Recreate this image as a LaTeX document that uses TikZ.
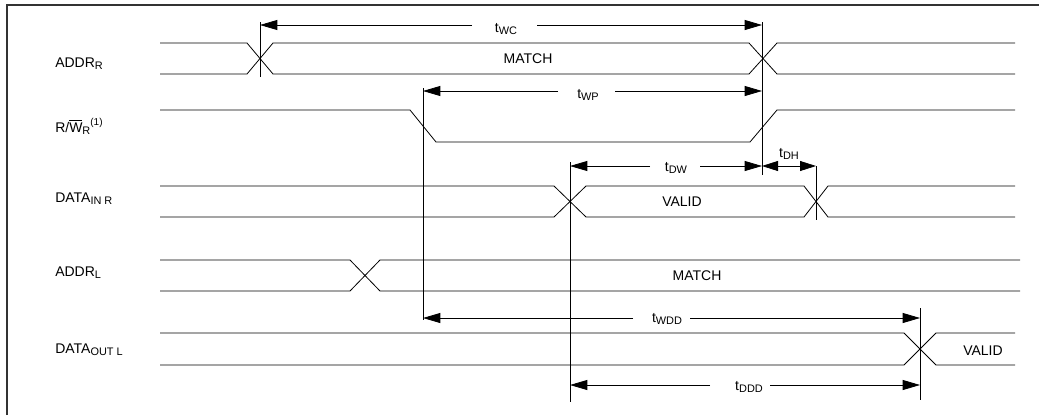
\documentclass[tikz,border=0pt]{standalone}
\usepackage{fontspec}
\setmainfont{Liberation Sans}
\usetikzlibrary{arrows.meta}
\newcommand\sbx[1]{\raisebox{-0.4ex}{\fontsize{8.2}{9}\selectfont #1}}
\newcommand\spx[1]{\raisebox{0.9ex}{\fontsize{7.5}{8}\selectfont #1}}
\begin{document}
\begin{tikzpicture}[x=0.75pt,y=-0.75pt,
  sig/.style={line width=0.6pt},
  vline/.style={line width=0.6pt},
  arr/.style={line width=0.6pt,-{Triangle[length=13pt,width=7.5pt]}},
  darr/.style={line width=0.6pt,{Triangle[length=12pt,width=7.5pt]}-{Triangle[length=12pt,width=7.5pt]}},
  lbl/.style={anchor=base west,inner sep=0pt,font=\fontsize{10.5}{12}\selectfont},
  txt/.style={anchor=base,inner sep=0pt,font=\fontsize{10.5}{12}\selectfont}]
\useasboundingbox (0,0) rectangle (1039,415);
% frame
\draw[line width=0.8pt,black!80] (7,415) -- (7,5) -- (1039,5);

% signal names
\node[lbl] (nAR) at (55,67) {ADDR\sbx{R}};
\node[lbl] (nRW) at (55,132) {R/$\overline{\hbox{W}}$\sbx{R}\spx{(1)}};
\node[lbl] (nDI) at (55,202) {DATA\sbx{IN R}};
\node[lbl] (nAL) at (55,276) {ADDR\sbx{L}};
\node[lbl] (nDO) at (55,353) {DATA\sbx{OUT L}};

% ADDR_R
\draw[sig] (160,43) -- (247,43) -- (273,74) -- (749,74) -- (777,43) -- (1015,43);
\draw[sig] (160,74) -- (247,74) -- (273,43) -- (749,43) -- (777,74) -- (1015,74);
\node[txt] (m1) at (528,63) {MATCH};

% R/W_R
\draw[sig] (160,110) -- (410,110) -- (436,142) -- (750,142) -- (777,110) -- (1015,110);

% DATA_IN R
\draw[sig] (160,186) -- (554,186) -- (586,217) -- (804,217) -- (828,186) -- (1015,186);
\draw[sig] (160,217) -- (554,217) -- (586,186) -- (804,186) -- (828,217) -- (1015,217);
\node[txt] (v1) at (682,206) {VALID};

% ADDR_L
\draw[sig] (160,260) -- (350,260) -- (380,291) -- (1020,291);
\draw[sig] (160,291) -- (350,291) -- (380,260) -- (1020,260);
\node[txt] (m2) at (697,280) {MATCH};

% DATA_OUT L
\draw[sig] (160,333) -- (904,333) -- (936,365) -- (1015,365);
\draw[sig] (160,365) -- (904,365) -- (936,333) -- (1015,333);
\node[txt] (v2) at (983,355) {VALID};

% vertical reference lines
\coordinate (a1) at (260,25);  \draw[vline] (260,22) -- (260,77);
\coordinate (a2) at (762,25);  \draw[vline] (762,22) -- (762,175);
\coordinate (b1) at (423,91);  \coordinate (b2) at (762,91);
\draw[vline] (423,88) -- (423,320);
\coordinate (c1) at (570,166); \coordinate (c2) at (762,166); \coordinate (c3) at (816,166);
\draw[vline] (570,162) -- (570,402);
\draw[vline] (816,166) -- (816,220);
\coordinate (d1) at (423,318); \coordinate (d2) at (920,318);
\coordinate (e1) at (570,385); \coordinate (e2) at (920,385);
\draw[vline] (920,308) -- (920,400);

% timing labels
\node[txt] (twc) at (506,32) {t\sbx{WC}};
\node[txt] (twp) at (588,98) {t\sbx{WP}};
\node[txt] (tdw) at (676,171) {t\sbx{DW}};
\node[txt] (tdh) at (789,157) {t\sbx{DH}};
\node[txt] (twdd) at (667,322) {t\sbx{WDD}};
\node[txt] (tddd) at (749,390) {t\sbx{DDD}};

% arrows
\draw[arr] (472,25) -- (a1);  \draw[arr] (537,25) -- (a2);
\draw[arr] (558,91) -- (b1);  \draw[arr] (615,91) -- (b2);
\draw[arr] (650,166) -- (c1); \draw[arr] (700,166) -- (c2);
\draw[darr] (c2) -- (c3);
\draw[arr] (633,318) -- (d1); \draw[arr] (690,318) -- (d2);
\draw[arr] (710,385) -- (e1); \draw[arr] (770,385) -- (e2);
\end{tikzpicture}
\end{document}
